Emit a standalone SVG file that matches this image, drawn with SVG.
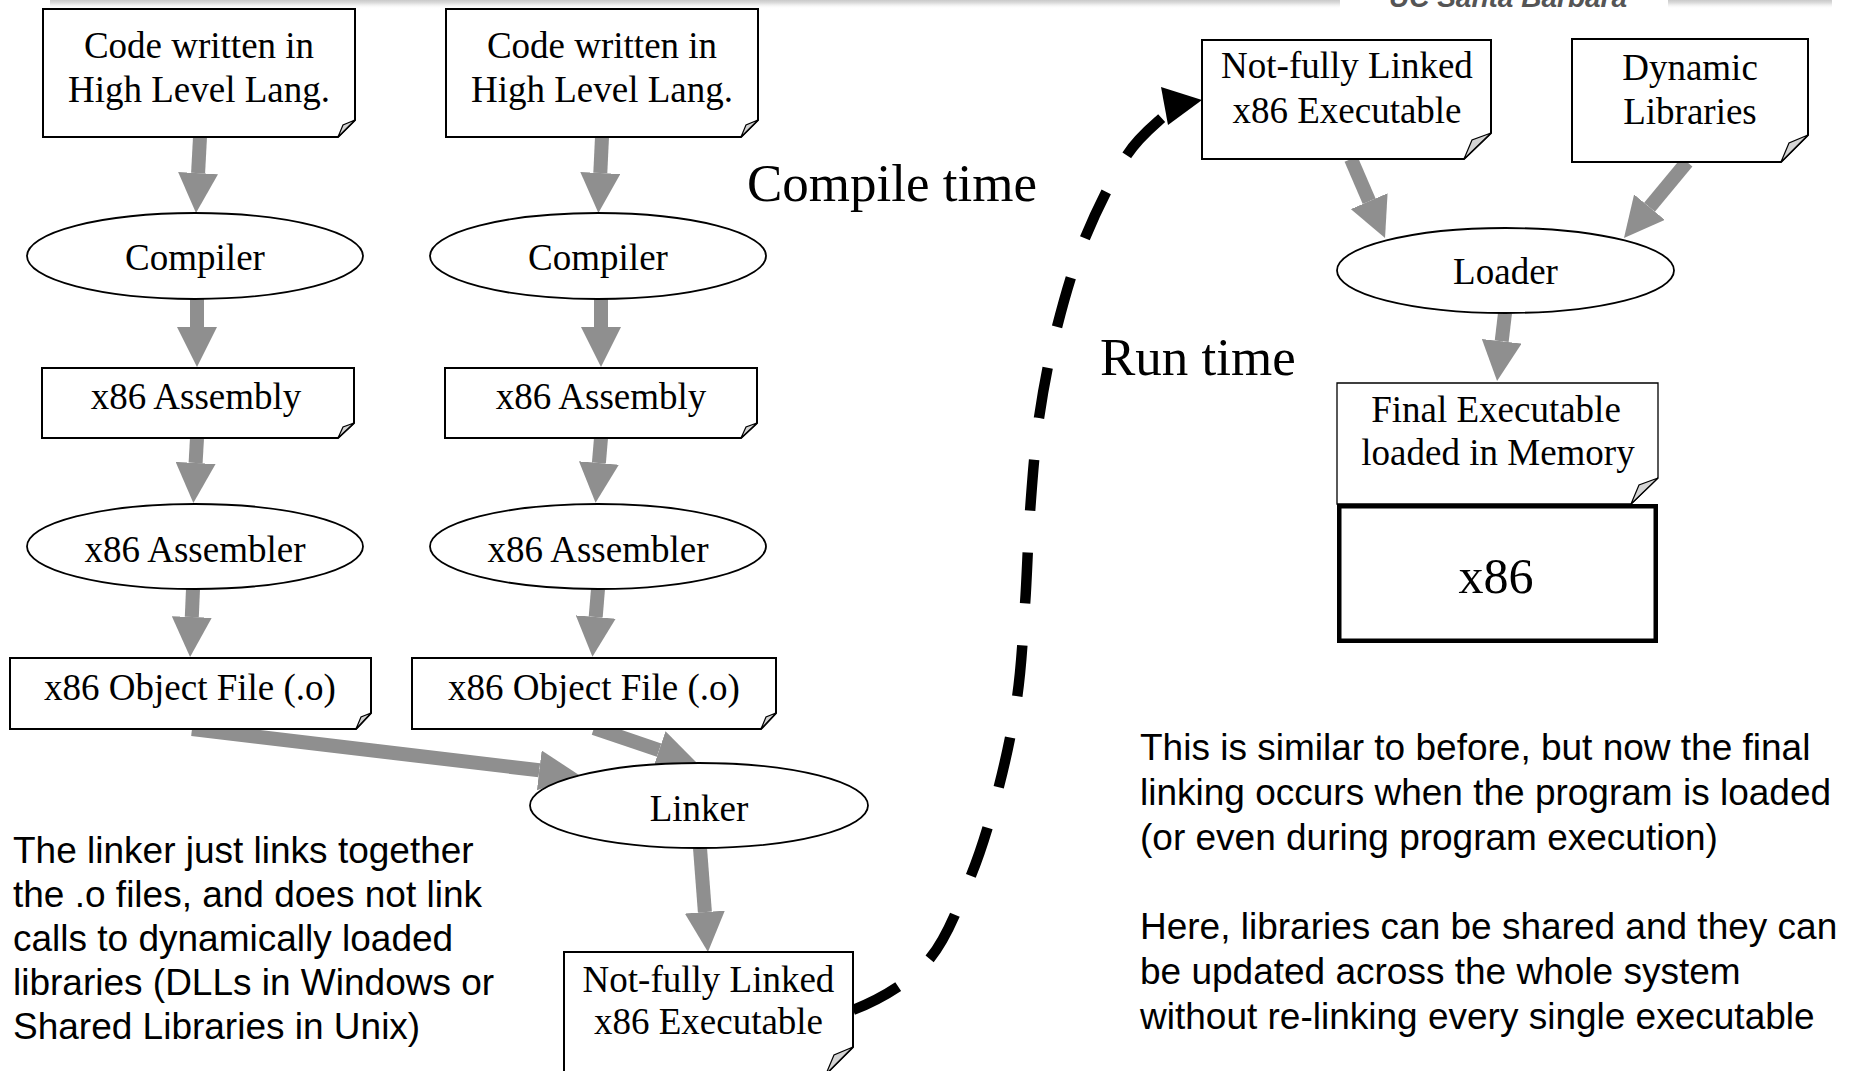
<svg xmlns="http://www.w3.org/2000/svg" width="1857" height="1071" viewBox="0 0 1857 1071">
  <style>
    .note { fill: #ffffff; stroke: #000000; stroke-width: 2; stroke-linejoin: miter; }
    .fold { fill: #d4d4d4; stroke: #000000; stroke-width: 1.2; stroke-linejoin: miter; }
    .oval { fill: #ffffff; stroke: #000000; stroke-width: 1.8; }
    .lbl { font-family: "Liberation Serif", "Times New Roman", serif; font-size: 37px; fill: #000000; text-anchor: middle; }
    .big { font-family: "Liberation Serif", "Times New Roman", serif; font-size: 53px; fill: #000000; }
    .para { font-family: "Liberation Sans", Arial, sans-serif; font-size: 37px; fill: #000000; }
    .flow { fill: none; stroke: #8f8f8f; stroke-width: 14; stroke-linecap: butt; marker-end: url(#head); }
  </style>
  <defs>
    <marker id="head" markerUnits="userSpaceOnUse" viewBox="0 0 40 40" refX="0" refY="20" markerWidth="40" markerHeight="40" orient="auto">
      <path d="M0,0 L40,20 L0,40 Z" fill="#8f8f8f"/>
    </marker>
    <linearGradient id="barShade" x1="0" y1="0" x2="0" y2="1">
      <stop offset="0" stop-color="#bdbdbd"/>
      <stop offset="0.45" stop-color="#dcdcdc"/>
      <stop offset="1" stop-color="#ffffff" stop-opacity="0"/>
    </linearGradient>
  </defs>

  <rect width="1857" height="1071" fill="#ffffff"/>

  <!-- page header strip -->
  <g id="header">
    <rect x="50" y="-2" width="1290" height="11" rx="3" fill="url(#barShade)"/>
    <rect x="1668" y="-2" width="164" height="11" rx="3" fill="url(#barShade)"/>
    <text x="1508" y="7" font-family="Liberation Sans, Arial, sans-serif" font-size="28" font-style="italic" font-weight="bold" fill="#555555" text-anchor="middle">UC Santa Barbara</text>
  </g>

  <!-- connectors -->
  <g id="connectors">
    <path class="flow" d="M200,137 L198.1,173.1"/>
    <path class="flow" d="M602,137 L600.3,173"/>
    <path class="flow" d="M197,299 L197,327"/>
    <path class="flow" d="M601,299 L601,327"/>
    <path class="flow" d="M197,438 L195.6,463"/>
    <path class="flow" d="M601,438 L598.9,463"/>
    <path class="flow" d="M193,589 L191.8,617"/>
    <path class="flow" d="M598,589 L595.7,617"/>
    <path class="flow" d="M192,729 L539.3,770.3"/>
    <path class="flow" d="M594,728 L659.1,750.1"/>
    <path class="flow" d="M700,848 L704.9,912.1"/>
    <path class="flow" d="M1351,159 L1369.2,201.2"/>
    <path class="flow" d="M1687,162 L1649.5,207.2"/>
    <path class="flow" d="M1505,313 L1501.7,341.3"/>
    <!-- dashed hand-off from the linked output to the loader input -->
    <path d="M853,1010 C878,1000 907.5,984 927,962 C946.5,940 958.2,906.7 970,878 C981.8,849.3 990.2,820 998,790 C1005.8,760 1012.5,728.8 1017,698 C1021.5,667.2 1022.8,636 1025,605 C1027.2,574 1027.7,543.2 1030,512 C1032.3,480.8 1034.5,448.8 1039,418 C1043.5,387.2 1049.3,357 1057,327 C1064.7,297 1073.3,266.7 1085,238 C1096.7,209.3 1113.7,175.5 1127,155 C1140.3,134.5 1158.7,121.7 1165,115" fill="none" stroke="#000000" stroke-width="10.5" stroke-dasharray="51 42" stroke-linecap="butt"/>
    <polygon points="1161,87 1202,100 1168,125" fill="#000000"/>
  </g>

  <!-- left chain -->
  <g id="src1">
    <path class="note" d="M43,9 H355 V120 L338,137 H43 Z"/>
    <path class="fold" d="M355,120 L338,137 L343,125 Z"/>
    <text class="lbl" x="199" y="58">Code written in</text>
    <text class="lbl" x="199" y="102">High Level Lang.</text>
  </g>
  <g id="compiler1">
    <ellipse class="oval" cx="195" cy="256" rx="168" ry="43"/>
    <text class="lbl" x="195" y="270">Compiler</text>
  </g>
  <g id="asm1">
    <path class="note" d="M42,368 H354 V423 L338,438 H42 Z"/>
    <path class="fold" d="M354,423 L338,438 L343,427 Z"/>
    <text class="lbl" x="196" y="409">x86 Assembly</text>
  </g>
  <g id="assembler1">
    <ellipse class="oval" cx="195" cy="546.5" rx="168" ry="42.5"/>
    <text class="lbl" x="195" y="562">x86 Assembler</text>
  </g>
  <g id="obj1">
    <path class="note" d="M10,658 H371 V713 L356,729 H10 Z"/>
    <path class="fold" d="M371,713 L356,729 L361,717 Z"/>
    <text class="lbl" x="190" y="700">x86 Object File (.o)</text>
  </g>

  <!-- right chain -->
  <g id="src2">
    <path class="note" d="M446,9 H758 V120 L741,137 H446 Z"/>
    <path class="fold" d="M758,120 L741,137 L746,125 Z"/>
    <text class="lbl" x="602" y="58">Code written in</text>
    <text class="lbl" x="602" y="102">High Level Lang.</text>
  </g>
  <g id="compiler2">
    <ellipse class="oval" cx="598" cy="256" rx="168" ry="43"/>
    <text class="lbl" x="598" y="270">Compiler</text>
  </g>
  <g id="asm2">
    <path class="note" d="M445,368 H757 V423 L741,438 H445 Z"/>
    <path class="fold" d="M757,423 L741,438 L746,427 Z"/>
    <text class="lbl" x="601" y="409">x86 Assembly</text>
  </g>
  <g id="assembler2">
    <ellipse class="oval" cx="598" cy="546.5" rx="168" ry="42.5"/>
    <text class="lbl" x="598" y="562">x86 Assembler</text>
  </g>
  <g id="obj2">
    <path class="note" d="M412,658 H776 V713 L761,729 H412 Z"/>
    <path class="fold" d="M776,713 L761,729 L766,717 Z"/>
    <text class="lbl" x="594" y="700">x86 Object File (.o)</text>
  </g>

  <!-- link step -->
  <g id="linker">
    <ellipse class="oval" cx="699" cy="805.5" rx="169" ry="42.5"/>
    <text class="lbl" x="699" y="821">Linker</text>
  </g>
  <g id="partial-exe">
    <path class="note" d="M564,952 H853 V1047 L826,1074 H564 Z"/>
    <path class="fold" d="M853,1047 L826,1074 L834,1055 Z"/>
    <text class="lbl" x="708.5" y="992">Not-fully Linked</text>
    <text class="lbl" x="708.5" y="1034">x86 Executable</text>
  </g>

  <!-- load step -->
  <g id="partial-exe-load">
    <path class="note" d="M1202,40 H1491 V133 L1464,159 H1202 Z"/>
    <path class="fold" d="M1491,133 L1464,159 L1472,140 Z"/>
    <text class="lbl" x="1347" y="78">Not-fully Linked</text>
    <text class="lbl" x="1347" y="123">x86 Executable</text>
  </g>
  <g id="dynlibs">
    <path class="note" d="M1572,39 H1808 V135 L1781,162 H1572 Z"/>
    <path class="fold" d="M1808,135 L1781,162 L1789,143 Z"/>
    <text class="lbl" x="1690" y="80">Dynamic</text>
    <text class="lbl" x="1690" y="124">Libraries</text>
  </g>
  <g id="loader">
    <ellipse class="oval" cx="1505.5" cy="270.5" rx="168.5" ry="42.5"/>
    <text class="lbl" x="1505.5" y="284">Loader</text>
  </g>
  <g id="final-exe">
    <path class="note" d="M1337,383 H1658 V478 L1631,504 H1337 Z" style="stroke-width:1.3"/>
    <path class="fold" d="M1658,478 L1631,504 L1639,485 Z"/>
    <text class="lbl" x="1496" y="422">Final Executable</text>
    <text class="lbl" x="1498" y="465">loaded in Memory</text>
  </g>
  <g id="cpu">
    <rect x="1339.25" y="506.25" width="316.5" height="134.5" fill="#ffffff" stroke="#000000" stroke-width="4.5"/>
    <text x="1496" y="593" font-family="Liberation Serif, Times New Roman, serif" font-size="50" text-anchor="middle">x86</text>
  </g>

  <!-- phase captions -->
  <text class="big" x="747" y="201">Compile time</text>
  <text class="big" x="1100" y="375">Run time</text>

  <!-- explanatory notes -->
  <g id="note-left">
    <text class="para" x="13" y="863">The linker just links together</text>
    <text class="para" x="13" y="907">the .o files, and does not link</text>
    <text class="para" x="13" y="951">calls to dynamically loaded</text>
    <text class="para" x="13" y="995">libraries (DLLs in Windows or</text>
    <text class="para" x="13" y="1039">Shared Libraries in Unix)</text>
  </g>
  <g id="note-right">
    <text class="para" x="1140" y="760">This is similar to before, but now the final</text>
    <text class="para" x="1140" y="805">linking occurs when the program is loaded</text>
    <text class="para" x="1140" y="850">(or even during program execution)</text>
    <text class="para" x="1140" y="939">Here, libraries can be shared and they can</text>
    <text class="para" x="1140" y="984">be updated across the whole system</text>
    <text class="para" x="1140" y="1029">without re-linking every single executable</text>
  </g>
</svg>
